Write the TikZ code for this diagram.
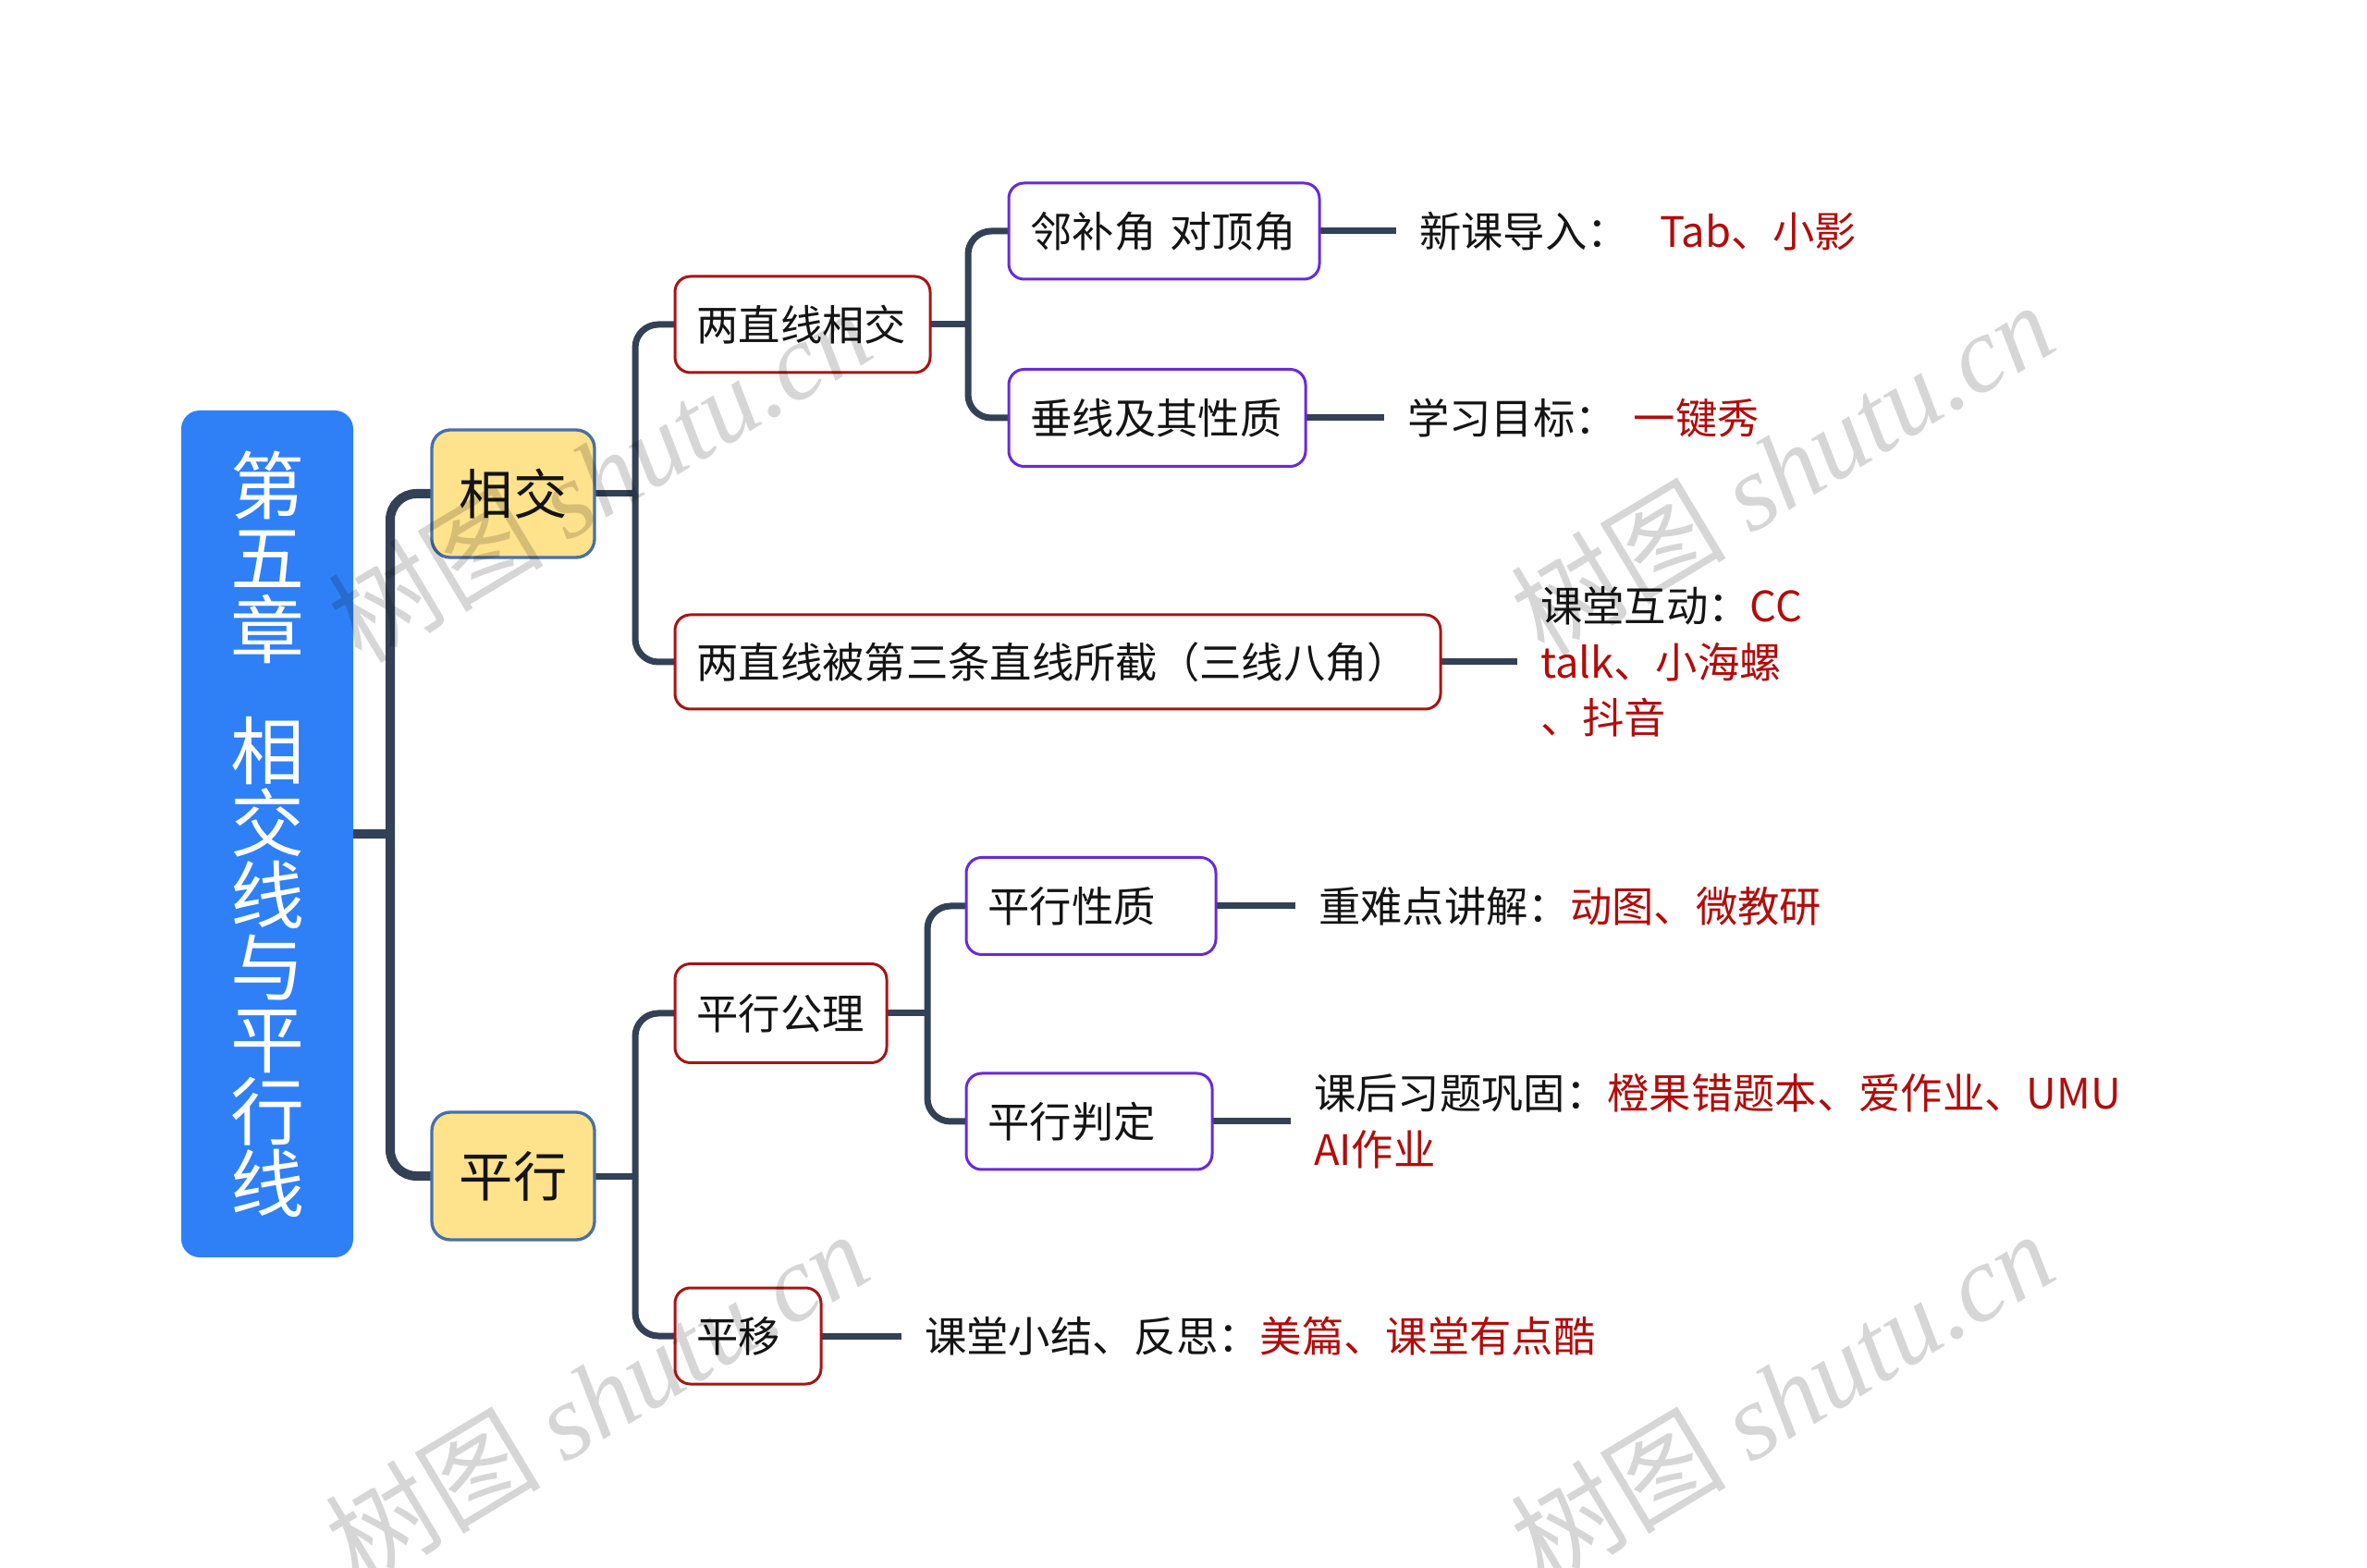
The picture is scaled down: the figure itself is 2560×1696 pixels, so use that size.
\documentclass[tikz,border=0pt]{standalone}
\usepackage{fontspec}
\setmainfont{Noto Sans CJK SC}
\newfontfamily\wmserif{Liberation Serif Italic}
\definecolor{lineclr}{RGB}{50,65,86}
\definecolor{txt}{RGB}{20,20,20}
\definecolor{redtxt}{RGB}{178,12,12}
\definecolor{boxred}{RGB}{168,20,20}
\definecolor{boxpurple}{RGB}{104,42,218}
\definecolor{rootblue}{RGB}{47,128,246}
\definecolor{topicyellow}{RGB}{255,226,140}
\definecolor{topicborder}{RGB}{72,112,168}
\pgfdeclarelayer{bg}
\pgfsetlayers{bg,main}
\newcommand{\rt}[1]{\textcolor{redtxt}{#1}}
\newcommand{\wmtext}{树图 {\wmserif shutu.cn}}
\lineskiplimit=-30pt
\begin{document}
\begin{tikzpicture}[x=0.3pt,y=-0.3pt,
  conn/.style={draw=lineclr, line width=2.1pt, rounded corners=7.5pt},
  rootconn/.style={conn, line width=3pt, rounded corners=8.5pt},
  box/.style={rectangle, rounded corners=5pt, line width=0.9pt, fill=white, anchor=west,
    outer sep=0pt, inner xsep=7pt, inner ysep=0pt, align=left,
    font=\fontsize{13.6}{18}\selectfont, text=txt},
  redbox/.style={box, draw=boxred},
  purplebox/.style={box, draw=boxpurple},
  topicbox/.style={rectangle, anchor=west, outer sep=0pt, inner sep=0pt,
    fill=topicyellow, draw=topicborder, line width=1pt, text=txt,
    rounded corners=6pt, font=\fontsize{17.5}{20}\selectfont,
    minimum width=52.8pt, minimum height=41.4pt},
  rootbox/.style={rectangle, rounded corners=6pt, fill=rootblue, anchor=west, outer sep=0pt,
    inner sep=0pt, text=white, align=center, minimum width=55.8pt, minimum height=274.8pt,
    font=\fontsize{24}{23.4}\selectfont},
  leaf/.style={anchor=west, inner xsep=7.5pt, inner ysep=0pt, outer sep=0pt,
    font=\fontsize{13.6}{18.2}\selectfont, align=left, text=txt},
  wm/.style={rotate=31, text=black, text opacity=0.16, font=\fontsize{35}{35}\selectfont}
]
\path[use as bounding box, clip] (0,0) rectangle (2560,1696);

% root
\node[rootbox] (root) at (196,902) {第\\五\\章\\[16pt]相\\交\\线\\与\\平\\行\\线};

% level 1
\node[topicbox] (xj) at (467,534) {相交};
\node[topicbox] (px) at (467,1272) {平行};

% level 2
\node[redbox, text width=68.8pt, minimum height=31.2pt] (a1) at (730,351) {两直线相交};
\node[redbox, text width=234.4pt, minimum height=30.6pt] (a2) at (730,716) {两直线被第三条直线所截（三线八角）};
\node[redbox, text width=54.7pt, minimum height=32.1pt] (c1) at (730,1096) {平行公理};
\node[redbox, text width=33.4pt, minimum height=31.2pt] (c2) at (730,1445) {平移};

% level 3
\node[purplebox, text width=86.8pt, minimum height=31.2pt] (b1) at (1091,250) {邻补角 对顶角};
\node[purplebox, text width=82.3pt, minimum height=31.5pt] (b2) at (1091,452) {垂线及其性质};
\node[purplebox, text width=67pt, minimum height=31.5pt] (d1) at (1045,980) {平行性质};
\node[purplebox, text width=65.8pt, minimum height=31.2pt] (d2) at (1045,1213) {平行判定};

% leaves
\node[leaf] (l1) at (1510,250) {新课导入：\hspace{10pt}\rt{Tab、小影}};
\node[leaf] (l2) at (1497,452) {学习目标：\hspace{5.4pt}\rt{一键秀}};
\node[leaf] (l3) at (1641,716) {课堂互动：\rt{CC}\\\rt{talk、小海螺}\\\rt{、抖音}};
\node[leaf] (l4) at (1401,980) {重难点讲解：\rt{动图、微教研}};
\node[leaf] (l5) at (1396,1213) {课后习题巩固：\rt{橙果错题本、爱作业、UMU}\\\rt{AI作业}};
\node[leaf] (l6) at (975,1445) {课堂小结、反思：\rt{美篇、课堂有点酷}};

% junctions
\coordinate (j0) at (422,902);
\coordinate (j1) at (687,534);
\coordinate (j2) at (1047,351);
\coordinate (j3) at (687,1272);
\coordinate (j4) at (1003,1096);

\begin{pgfonlayer}{bg}
\draw[rootconn] (root.east) -- (j0);
\draw[rootconn] (j0) |- (xj.west);
\draw[rootconn] (j0) |- (px.west);
\draw[conn] (xj.east) -- (j1);
\draw[conn] (j1) |- (a1.west);
\draw[conn] (j1) |- (a2.west);
\draw[conn] (a1.east) -- (j2);
\draw[conn] (j2) |- (b1.west);
\draw[conn] (j2) |- (b2.west);
\draw[conn] (px.east) -- (j3);
\draw[conn] (j3) |- (c1.west);
\draw[conn] (j3) |- (c2.west);
\draw[conn] (c1.east) -- (j4);
\draw[conn] (j4) |- (d1.west);
\draw[conn] (j4) |- (d2.west);
\draw[conn] (b1.east) -- (l1.west);
\draw[conn] (b2.east) -- (l2.west);
\draw[conn] (a2.east) -- (l3.west);
\draw[conn] (d1.east) -- (l4.west);
\draw[conn] (d2.east) -- (l5.west);
\draw[conn] (c2.east) -- (l6.west);
\end{pgfonlayer}

% watermarks
\node[wm] (w1) at (648,514) {\wmtext};
\node[wm] (w2) at (1927,506) {\wmtext};
\node[wm] (w3) at (645,1511) {\wmtext};
\node[wm] (w4) at (1927,1511) {\wmtext};
\end{tikzpicture}
\end{document}
